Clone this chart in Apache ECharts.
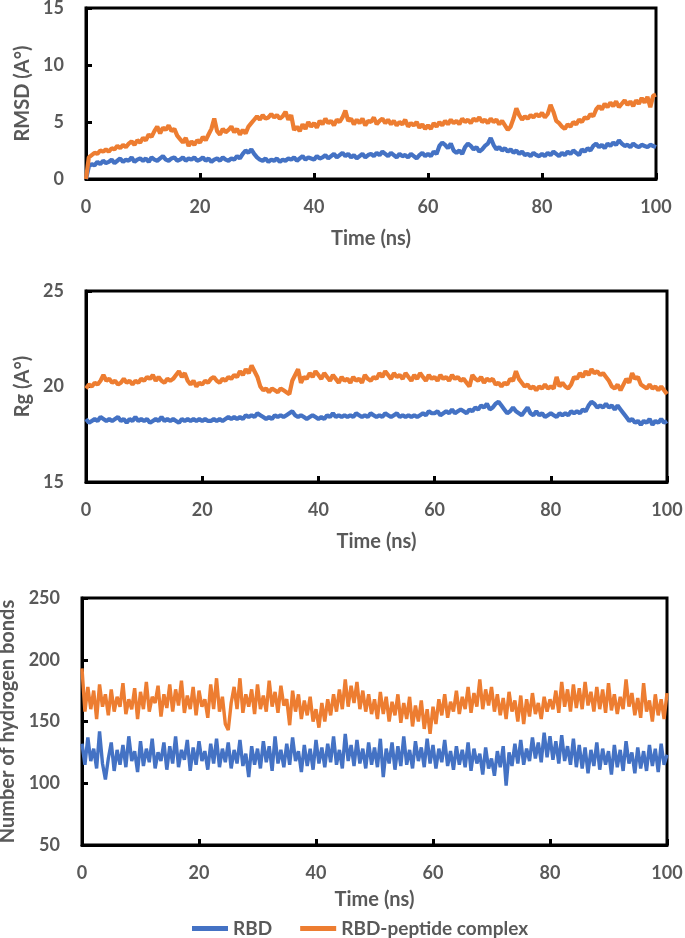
<!DOCTYPE html>
<html>
<head>
<meta charset="utf-8">
<script src="https://cdn.jsdelivr.net/npm/echarts@6/dist/echarts.min.js"></script>
<style>
html,body{margin:0;padding:0;background:#fff;}
#chart{width:685px;height:938px;}
</style>
</head>
<body>
<div id="chart"></div>
<script>
// Sampling grid: every 0.5 ns from 0 to 100 ns
const TIME = Array.from({length: 201}, (_, i) => i * 0.5);
const X_TICKS = [0, 20, 40, 60, 80, 100];
const SERIES_NAMES = ['RBD', 'RBD-peptide complex'];

const RMSD_RBD = [
0,1.1,1.3,1.2,1.5,1.3,1.6,1.4,1.5,1.7,
1.4,1.6,1.8,1.5,1.7,1.6,1.9,1.5,1.7,1.8,
1.6,1.8,1.5,1.9,1.7,1.6,1.8,2.0,1.7,1.6,
1.8,1.9,1.6,1.7,1.9,1.6,1.8,1.7,1.9,1.6,
1.7,1.9,1.6,1.8,1.5,1.7,1.8,1.6,1.9,1.7,
1.6,1.8,1.7,2.0,1.8,2.2,2.5,2.3,2.6,2.2,
1.9,1.7,1.6,1.8,1.5,1.7,1.6,1.8,1.5,1.7,
1.6,1.8,1.7,1.9,1.6,1.8,2.0,1.7,1.9,1.8,
1.7,2.0,1.8,1.9,2.1,1.8,2.0,2.2,1.9,2.1,
2.3,2.0,2.2,1.9,2.1,1.8,2.0,2.2,1.9,2.1,
2.2,2.0,2.3,2.1,2.4,2.2,2.0,2.3,2.1,1.9,
2.2,2.0,2.1,1.9,2.2,2.0,1.8,2.1,2.3,2.0,
2.2,2.0,2.4,2.2,2.9,3.2,3.0,2.7,3.1,2.5,
2.3,2.5,2.2,2.8,3.1,2.9,2.6,2.8,2.4,2.6,
2.9,3.1,3.6,3.0,2.6,2.8,2.5,2.7,2.4,2.6,
2.3,2.5,2.2,2.4,2.1,2.2,2.0,2.3,2.1,2.0,
2.2,2.0,2.3,2.1,2.4,2.2,2.0,2.3,2.1,2.4,
2.2,2.5,2.3,2.1,2.6,2.4,2.7,2.5,2.9,3.1,
2.8,3.0,2.7,3.1,2.9,3.2,3.0,3.4,3.1,2.9,
3.0,2.8,3.1,2.9,2.8,3.0,2.9,2.8,3.0,2.9,
2.8];
const RMSD_COMPLEX = [
0,1.9,2.1,2.3,2.2,2.5,2.4,2.6,2.4,2.7,
2.6,2.9,2.7,3.0,2.8,3.1,3.3,3.0,3.4,3.2,
3.6,3.4,3.9,3.7,4.2,4.6,4.0,4.5,4.3,4.7,
4.2,4.4,3.8,3.5,3.2,3.6,2.9,3.3,3.0,3.4,
3.2,3.7,3.4,3.9,4.4,5.3,4.2,3.9,4.4,4.1,
4.3,4.6,4.1,4.4,3.9,4.3,4.0,4.6,4.9,5.2,
5.5,5.2,5.6,5.3,5.4,5.7,5.4,5.6,5.3,5.5,
5.9,5.2,5.6,4.3,4.6,4.2,4.8,4.4,5.0,4.6,
4.9,4.5,5.1,4.8,5.3,4.9,5.1,4.7,5.2,5.0,
5.4,6.0,5.1,5.3,4.8,5.2,4.9,5.3,4.7,5.1,
5.0,5.4,4.8,5.1,5.3,4.9,5.2,4.8,5.1,4.7,
5.0,4.8,5.2,4.6,4.9,4.7,5.0,4.5,4.8,4.4,
4.7,4.4,4.9,4.6,5.0,4.7,5.1,4.8,5.2,4.9,
5.1,4.8,5.3,5.0,5.2,4.9,5.3,5.1,5.4,5.0,
5.2,4.9,5.3,5.0,5.2,4.8,5.1,4.7,4.3,4.6,
5.3,6.2,5.6,5.2,5.5,5.3,5.6,5.4,5.7,5.5,
5.8,5.4,5.7,6.5,5.9,5.1,4.9,4.6,4.4,4.8,
4.6,5.0,4.8,5.2,5.0,5.4,5.3,5.7,5.5,6.1,
6.4,6.1,6.6,6.3,6.7,6.4,6.8,6.3,6.6,6.9,
6.5,6.8,6.4,6.9,6.6,7.1,6.7,7.2,6.3,7.3,
7.4];

const RG_RBD = [
18.3,18.1,18.2,18.3,18.2,18.4,18.3,18.2,18.3,18.2,
18.3,18.4,18.2,18.3,18.1,18.3,18.2,18.4,18.2,18.3,
18.2,18.3,18.1,18.2,18.3,18.2,18.4,18.2,18.3,18.2,
18.3,18.2,18.1,18.3,18.2,18.3,18.2,18.3,18.2,18.3,
18.2,18.3,18.2,18.2,18.3,18.2,18.3,18.2,18.3,18.4,
18.3,18.4,18.3,18.4,18.3,18.5,18.4,18.5,18.4,18.6,
18.5,18.4,18.3,18.4,18.3,18.5,18.4,18.5,18.4,18.5,
18.6,18.7,18.5,18.4,18.5,18.4,18.3,18.4,18.5,18.4,
18.3,18.4,18.3,18.5,18.4,18.6,18.4,18.5,18.4,18.5,
18.4,18.5,18.4,18.6,18.5,18.4,18.5,18.4,18.6,18.5,
18.4,18.5,18.4,18.6,18.5,18.4,18.5,18.6,18.4,18.5,
18.4,18.5,18.4,18.5,18.4,18.5,18.6,18.5,18.7,18.6,
18.6,18.7,18.5,18.6,18.7,18.6,18.8,18.6,18.7,18.8,
18.7,18.6,18.8,18.7,18.9,18.8,19.0,18.9,19.1,18.8,
18.9,19.1,19.2,19.0,18.8,18.6,18.7,18.9,18.7,18.6,
18.5,18.7,18.9,18.6,18.5,18.7,18.5,18.6,18.4,18.5,
18.6,18.5,18.4,18.6,18.5,18.6,18.5,18.7,18.6,18.7,
18.6,18.8,18.7,19.0,19.2,19.1,18.9,19.0,18.9,19.1,
18.9,19.0,18.8,19.0,18.8,18.6,18.4,18.2,18.3,18.1,
18.2,18.0,18.2,18.1,18.3,18.0,18.2,18.1,18.3,18.1,
18.2];
const RG_COMPLEX = [
19.9,20.1,20.0,20.2,20.1,20.3,20.6,20.3,20.4,20.2,
20.3,20.1,20.2,20.4,20.2,20.3,20.1,20.3,20.2,20.4,
20.3,20.5,20.4,20.6,20.3,20.5,20.3,20.2,20.4,20.3,
20.4,20.6,20.8,20.5,20.7,20.3,20.1,20.3,20.0,20.2,
20.1,20.3,20.2,20.4,20.5,20.3,20.2,20.4,20.3,20.5,
20.4,20.6,20.5,20.8,20.6,20.9,20.7,21.1,20.8,20.5,
20.0,19.8,19.9,19.7,19.9,19.8,19.7,19.9,19.8,19.7,
19.6,20.3,20.6,20.9,20.2,20.5,20.4,20.7,20.5,20.8,
20.6,20.4,20.7,20.5,20.3,20.6,20.4,20.2,20.5,20.3,
20.4,20.2,20.5,20.3,20.4,20.2,20.6,20.4,20.3,20.5,
20.4,20.7,20.5,20.8,20.6,20.4,20.7,20.5,20.6,20.4,
20.7,20.5,20.3,20.6,20.4,20.7,20.5,20.3,20.6,20.4,
20.5,20.3,20.6,20.4,20.5,20.3,20.6,20.4,20.5,20.3,
20.4,20.2,20.0,20.6,20.4,20.3,20.5,20.2,20.4,20.3,
20.4,20.1,20.2,20.0,20.2,20.1,20.4,20.3,20.8,20.4,
20.2,20.0,20.1,19.9,20.0,19.8,20.0,19.9,20.1,19.9,
20.0,19.9,20.5,20.0,20.2,20.0,19.9,20.1,20.5,20.4,
20.7,20.5,20.8,20.6,20.9,20.7,20.8,20.6,20.7,20.5,
20.3,20.0,19.9,20.1,19.8,20.1,20.4,20.2,20.7,20.4,
20.5,20.1,20.0,19.9,20.1,19.9,20.0,19.8,20.0,19.8,
19.6];

const HB_RBD = [
132,115,137,118,128,112,142,116,103,120,
133,110,127,115,131,113,138,118,126,109,
134,114,128,117,136,112,125,118,133,111,
130,116,138,113,127,119,135,110,129,115,
134,118,126,111,132,116,136,113,128,117,
133,112,127,116,135,114,124,105,130,115,
128,112,134,117,130,110,138,116,127,113,
132,115,137,118,126,109,131,114,128,111,
135,116,129,113,132,117,138,115,127,112,
140,118,131,114,135,116,128,112,133,115,
129,113,136,105,128,116,133,111,130,114,
138,115,127,112,134,118,129,113,136,116,
131,112,128,117,135,114,126,111,130,115,
127,113,133,110,128,116,124,107,129,112,
120,106,126,113,130,98,125,114,132,116,
135,115,128,118,137,120,133,117,141,121,
138,119,134,116,139,118,130,115,136,113,
131,112,129,108,127,114,133,111,128,115,
126,107,131,113,127,110,134,116,125,108,
129,112,126,110,131,114,128,109,132,115,
123];
const HB_COMPLEX = [
193,158,178,160,175,152,180,162,172,155,
176,158,170,162,181,156,168,160,177,152,
174,160,182,158,170,165,179,154,172,161,
180,158,176,163,183,157,171,160,178,155,
175,162,168,153,180,160,185,158,170,148,
143,165,178,160,185,157,172,162,176,156,
180,160,171,158,183,162,174,157,179,163,
168,147,175,158,172,152,167,155,170,150,
160,145,165,150,168,155,172,158,176,160,
184,162,179,165,182,160,175,158,172,156,
168,152,174,156,170,150,166,155,172,149,
165,152,170,146,163,150,167,144,160,140,
162,148,168,155,172,153,166,158,175,156,
170,160,178,157,173,162,184,160,176,163,
178,158,172,155,169,152,174,158,167,150,
171,148,168,154,173,156,165,152,170,158,
168,160,175,157,182,162,176,158,180,161,
177,160,182,163,174,158,178,160,176,157,
181,159,172,156,170,160,184,162,173,155,
169,153,181,158,167,150,172,155,168,152,
173];

const COLORS = ['#4472C4', '#ED7D31'];
const FONT = 'Lato, "Open Sans", sans-serif';
const TXT = '#595959';

function pairs(vals) { return vals.map((v, i) => [TIME[i], v]); }

const grids = [
  {left: 86, right: 29, top: 8, height: 171},
  {left: 86, right: 18, top: 291, height: 191},
  {left: 82, right: 18, top: 598, height: 247}
];
const yDefs = [
  {min: 0, max: 15, interval: 5, name: 'RMSD (A°)', gap: 51},
  {min: 15, max: 25, interval: 5, name: 'Rg (A°)', gap: 51},
  {min: 50, max: 250, interval: 50, name: 'Number of hydrogen bonds', gap: 57}
];
const xGaps = [50, 50, 45];
const LABEL = {color: TXT, fontFamily: FONT, fontWeight: 'bold', fontSize: 18};
const NAME = {color: TXT, fontFamily: FONT, fontWeight: 'bold', fontSize: 20};

const option = {
  animation: false,
  backgroundColor: '#fff',
  grid: grids.map(g => Object.assign({show: true, borderColor: '#000', borderWidth: 3, backgroundColor: 'transparent', containLabel: false, outerBoundsMode: 'none'}, g)),
  xAxis: grids.map((g, k) => ({
    type: 'value', gridIndex: k, min: 0, max: 100, interval: 20,
    name: 'Time (ns)', nameLocation: 'middle', nameGap: xGaps[k],
    nameTextStyle: NAME,
    axisLine: {show: true, onZero: false, lineStyle: {color: '#000', width: 3}},
    axisTick: {show: true, inside: true, length: 6, lineStyle: {color: '#000', width: 3}},
    axisLabel: Object.assign({margin: 19}, LABEL),
    splitLine: {show: false}
  })),
  yAxis: yDefs.map((d, k) => ({
    type: 'value', gridIndex: k, min: d.min, max: d.max, interval: d.interval,
    name: d.name, nameLocation: 'middle', nameGap: d.gap, nameRotate: 90,
    nameTextStyle: NAME,
    axisLine: {show: true, onZero: false, lineStyle: {color: '#000', width: 3}},
    axisTick: {show: true, inside: true, length: 6, lineStyle: {color: '#000', width: 3}},
    axisLabel: Object.assign({margin: 22}, LABEL),
    splitLine: {show: false}
  })),
  legend: {
    data: SERIES_NAMES,
    left: 187, top: 914,
    icon: 'rect', itemWidth: 36, itemHeight: 5, itemGap: 28,
    textStyle: {color: TXT, fontFamily: FONT, fontWeight: 'bold', fontSize: 19}
  },
  series: [
    [RMSD_RBD, RMSD_COMPLEX, 0, 4.2],
    [RG_RBD, RG_COMPLEX, 1, 4.2],
    [HB_RBD, HB_COMPLEX, 2, 3.4]
  ].flatMap(([a, b, k, w]) => [
    {name: SERIES_NAMES[0], type: 'line', xAxisIndex: k, yAxisIndex: k, data: pairs(a), showSymbol: false, symbol: 'none', color: COLORS[0], lineStyle: {width: w, color: COLORS[0]}},
    {name: SERIES_NAMES[1], type: 'line', xAxisIndex: k, yAxisIndex: k, data: pairs(b), showSymbol: false, symbol: 'none', color: COLORS[1], lineStyle: {width: w, color: COLORS[1]}}
  ])
};

const chart = echarts.init(document.getElementById('chart'), null, {renderer: 'canvas'});
chart.setOption(option);
</script>
</body>
</html>
